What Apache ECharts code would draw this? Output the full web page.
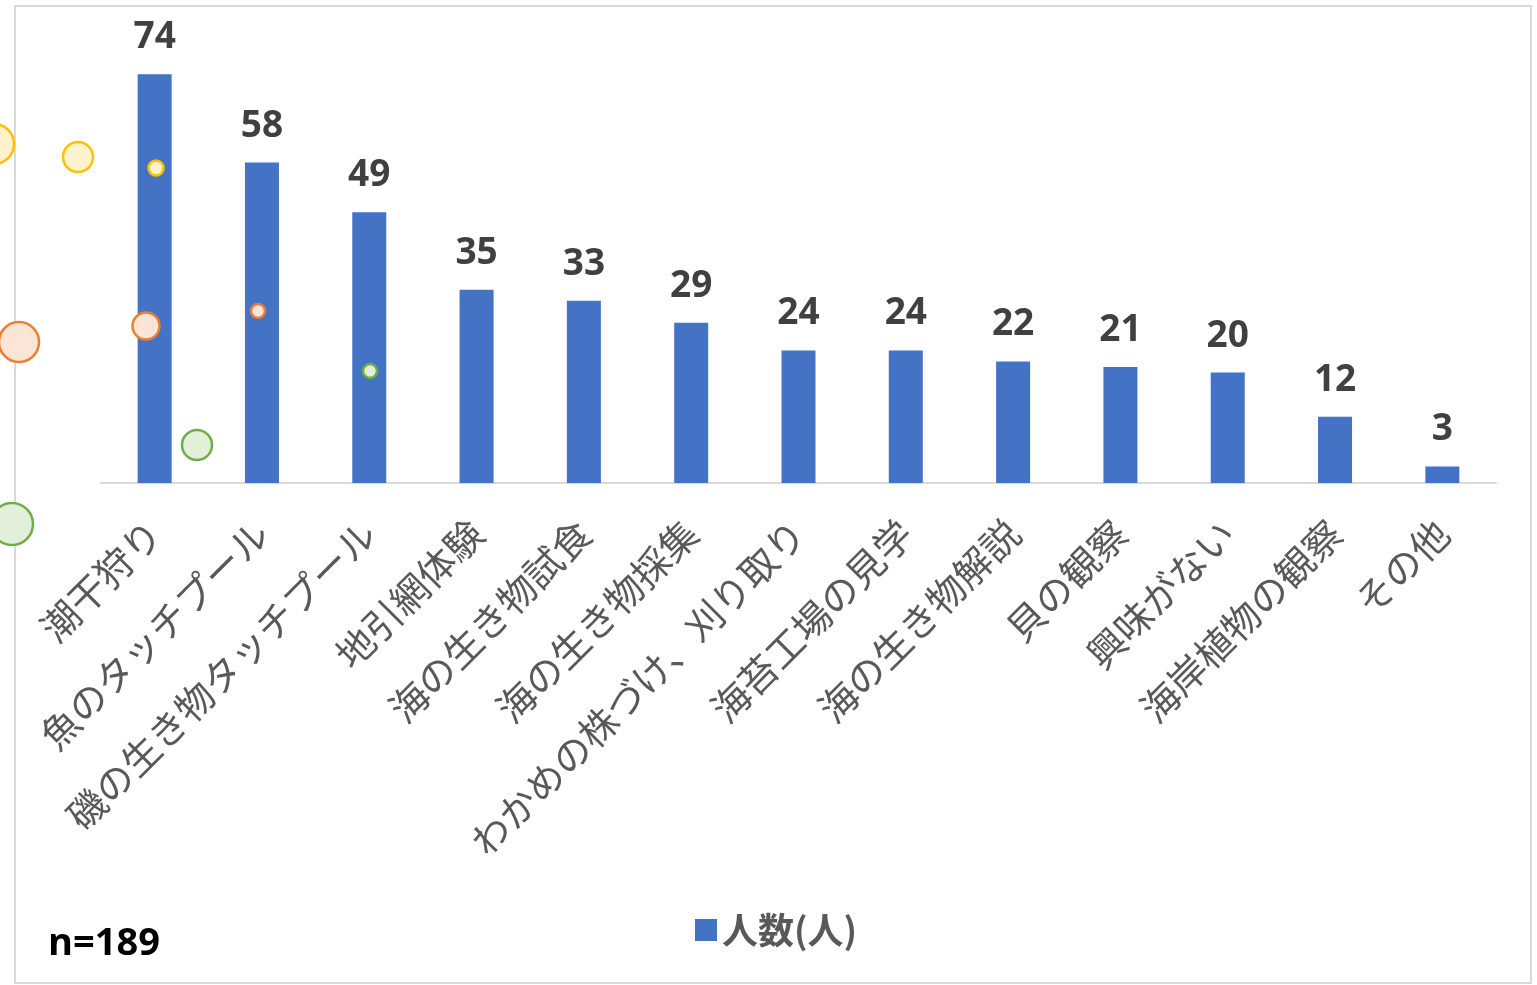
<!DOCTYPE html>
<html>
<head>
<meta charset="utf-8">
<style>
  html, body { margin: 0; padding: 0; background: #ffffff; }
  #chart { width: 1537px; height: 985px; }
</style>
<script src="https://cdn.jsdelivr.net/npm/echarts@6/dist/echarts.min.js"></script>
</head>
<body>
<div id="chart"></div>
<script>
// 参加したい体験（複数回答）
const categories = [
  '潮干狩り', '魚のタッチプール', '磯の生き物タッチプール', '地引網体験',
  '海の生き物試食', '海の生き物採集', 'わかめの株づけ、刈り取り', '海苔工場の見学',
  '海の生き物解説', '貝の観察', '興味がない', '海岸植物の観察', 'その他'
];
const counts = [74, 58, 49, 35, 33, 29, 24, 24, 22, 21, 20, 12, 3];
const seriesName = '人数(人)';
const sampleNote = 'n=189';

const JP = '"Noto Sans CJK JP", "Noto Sans", sans-serif';
const NUM = '"Open Sans", "Noto Sans", sans-serif';

// decorative bubbles
const bubbleStyles = {
  yellow: ['#FFC000', '#FFF2CC'],
  orange: ['#ED7D31', '#FBE5D6'],
  green:  ['#70AD47', '#E2F0D9']
};
function bubble(cx, cy, r, tone) {
  return {
    type: 'circle', silent: true, z: 20,
    shape: { cx: cx, cy: cy, r: r },
    style: { fill: bubbleStyles[tone][1], stroke: bubbleStyles[tone][0], lineWidth: 2.5 }
  };
}

const chart = echarts.init(document.getElementById('chart'), null, { renderer: 'canvas' });
chart.setOption({
  animation: false,
  backgroundColor: '#ffffff',
  grid: { left: 101, right: 41, top: 41, bottom: 502, containLabel: false },
  legend: {
    data: [seriesName],
    left: 690, top: 907,
    icon: 'rect', itemWidth: 22, itemHeight: 22, itemGap: 10,
    textStyle: { fontFamily: JP, fontSize: 36, fontWeight: 'bold', color: '#595959' }
  },
  xAxis: {
    type: 'category',
    data: categories,
    axisLine: { lineStyle: { color: '#d9d9d9', width: 2 } },
    axisTick: { show: false },
    axisLabel: {
      interval: 0, rotate: 45, margin: 44,
      fontFamily: JP, fontSize: 38, color: '#595959'
    }
  },
  yAxis: {
    type: 'value', min: 0, max: 80,
    show: false, splitLine: { show: false }
  },
  series: [{
    name: seriesName,
    type: 'bar',
    data: counts,
    barWidth: 34,
    itemStyle: { color: '#4472C4' },
    label: {
      show: true, position: 'top', distance: 18,
      fontFamily: NUM, fontSize: 37, fontWeight: 'bold', color: '#404040'
    }
  }],
  graphic: [
    {
      type: 'rect', silent: true, z: 0,
      shape: { x: 15, y: 6, width: 1516, height: 977 },
      style: { fill: 'none', stroke: '#d9d9d9', lineWidth: 2 }
    },
    {
      type: 'text', left: 48, top: 925, z: 10,
      style: { text: sampleNote, fontFamily: NUM, fontSize: 38, fontWeight: 'bold', fill: '#000000' }
    },
    bubble(-6, 144, 20, 'yellow'),
    bubble(78, 157, 15, 'yellow'),
    bubble(156, 168, 7.5, 'yellow'),
    bubble(19, 342, 20, 'orange'),
    bubble(146, 326, 13.5, 'orange'),
    bubble(258, 311, 7, 'orange'),
    bubble(12, 524, 21, 'green'),
    bubble(197, 445, 15, 'green'),
    bubble(370, 371, 7, 'green')
  ]
});
</script>
</body>
</html>
